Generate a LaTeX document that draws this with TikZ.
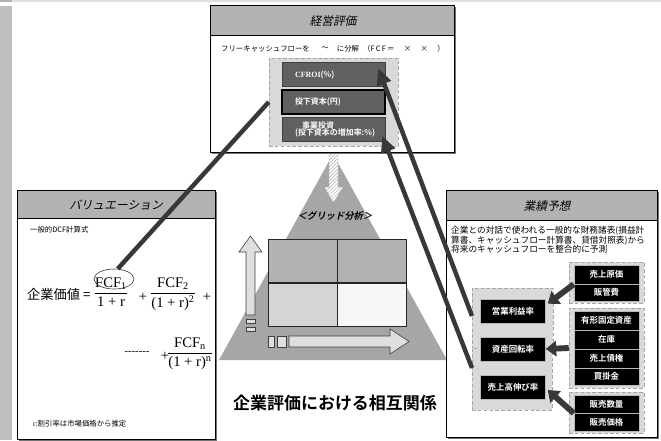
\documentclass[tikz,border=0pt]{standalone}
\usepackage{fontspec}
\usepackage{amsmath}
\setmainfont{Noto Sans CJK JP}[BoldFont={Noto Sans CJK JP Bold}]
\newfontfamily\jpit{Noto Sans CJK JP}[FakeSlant=0.22]
\newfontfamily\jpbfit{Noto Sans CJK JP Bold}[FakeSlant=0.22]
\newfontfamily\tmsfont{Liberation Serif}
\usetikzlibrary{arrows.meta, positioning, calc, patterns, shapes.geometric}

\def\pu{0.03cm}
\newcommand{\fsz}[1]{\fontsize{#1}{#1}\selectfont}

\definecolor{hdrgray}{HTML}{B2B2B2}
\definecolor{boxgray}{HTML}{D9D9D9}
\definecolor{darkfill}{HTML}{606060}
\definecolor{linegray}{HTML}{383838}
\definecolor{trigray}{HTML}{A6A6A6}

\begin{document}
\begin{tikzpicture}[x=\pu, y=-\pu,
        panel/.style={draw=black, line width=0.6pt, fill=white},
        header/.style={draw=black, line width=0.6pt, fill=hdrgray},
        hdrtext/.style={font=\jpit\fsz{10}, inner sep=0},
        note/.style={font=\fsz{6.3}, inner sep=0},
        grpbox/.style={draw=gray!70, densely dashed, line width=0.4pt, fill=boxgray, inner sep=0},
        darkbox/.style={draw=black!75, line width=0.5pt, fill=darkfill, text=white, font=\bfseries\fsz{6.8}, minimum width=103*\pu, minimum height=24*\pu, inner xsep=13*\pu, inner ysep=0, text width=77*\pu, align=left},
        blkbox/.style={fill=black, draw=gray!55, line width=0.4pt, text=white, font=\bfseries\fsz{7.2}, minimum width=65*\pu, inner sep=0},
        longarrow/.style={draw=linegray, line width=3.8pt, -{Triangle[length=14pt, width=12pt]}},
        longline/.style={draw=linegray, line width=3.8pt},
        fatarrow/.style={draw=linegray, line width=5pt, -{Triangle[length=9pt, width=13pt]}},
        lightarrow/.style={draw=black!75, line width=0.5pt, fill=gray!25},
        frac/.style={font=\tmsfont\fsz{12.5}, inner sep=0}
    ]
        \useasboundingbox (0,0) rectangle (661,440);

        % page frame
        \fill[gray!25] (12,0) rectangle (661,1.5);
        \fill[gray!60] (0,0) rectangle (12,1.5);
        \fill[gray!50] (0,6) rectangle (12,440);

        % grid analysis (centre)
        \fill[trigray] (333,154) -- (447,360) -- (219,360) -- cycle;
        \filldraw[fill=white, draw=gray!70] (329,153) -- (338,153) -- (338,187) -- (343,187) -- (333.5,203) -- (324,187) -- (329,187) -- cycle;
        \fill[pattern=north east lines, pattern color=gray!65] (329,153) -- (338,153) -- (338,187) -- (343,187) -- (333.5,203) -- (324,187) -- (329,187) -- cycle;
        \node[font=\jpbfit\fsz{8}, inner sep=0] (gridlbl) at (335,216) {＜グリッド分析＞};
        \foreach \cx/\cy/\cc in {268/239/gray!60, 337/239/gray!60, 268/283/gray!33, 337/283/gray!6} {
            \filldraw[draw=black!85, line width=0.5pt, fill=\cc] (\cx,\cy) rectangle ++(69,43.5);
        }
        \filldraw[lightarrow] (246,315) -- (246,252) -- (239,252) -- (250.5,236) -- (262,252) -- (255,252) -- (255,315) -- cycle;
        \filldraw[lightarrow] (246,319) rectangle (255,323);
        \filldraw[lightarrow] (246,327.5) rectangle (255,331);
        \filldraw[lightarrow] (289,336) -- (390,336) -- (390,329) -- (409,341.5) -- (390,354) -- (390,347) -- (289,347) -- cycle;
        \filldraw[lightarrow] (268,336) rectangle (274,347);
        \filldraw[lightarrow] (277,336) rectangle (286,347);
        \node[font=\bfseries\fsz{14.5}, inner sep=0] (title) at (335,403) {企業評価における相互関係};

        % top panel
        \fill[black!55] (211.5,6.5) rectangle (455.5,153.5);
        \filldraw[panel] (210,5) rectangle (454,152);
        \filldraw[header] (210,5) rectangle (454,35);
        \node[hdrtext] (evalhdr) at (333,21) {経営評価};
        \node[note, anchor=west] (fcftxt) at (221,49) {フリーキャッシュフローを};
        \node[note] (fcftilde) at (325,49) {～};
        \node[note] (fcfsplit) at (348,49) {に分解};
        \node[note, anchor=west] (fcfeq) at (363,49) {（F\,C\,F\,＝\hspace{8pt}×\hspace{8pt}×\hspace{8pt}）};
        \node[grpbox, minimum width=129*\pu, minimum height=88*\pu] (inbox) at (333.5,102) {};
        \node[darkbox] (cfroi) at (333.5,74.5) {{\tmsfont CFROI}(\%)};
        \node[darkbox, draw=black, line width=0.9pt] (capital) at (333.5,102) {投下資本(円)};
        \node[darkbox] (capex) at (333.5,129.5) {\hspace*{0.9em}事業投資\\[-1.5pt](投下資本の増加率:\%)};

        % valuation panel
        \fill[black!55] (18.5,191.5) rectangle (216.5,441.5);
        \filldraw[panel] (17,190) rectangle (215,439);
        \filldraw[header] (17,190) rectangle (215,218);
        \node[hdrtext] (valhdr) at (116,205) {バリュエーション};
        \node[note, anchor=west] (dcflbl) at (30,230) {一般的DCF計算式};
        \node[font=\fsz{11.3}, inner sep=0, anchor=west] (evlbl) at (27,294) {企業価値 =};
        \node[frac] (fracone) at (111,292) {$\dfrac{\text{\tmsfont FCF\textsubscript{1}}}{\text{\tmsfont 1 + r}}$};
        \node[draw=black!80, line width=0.5pt, ellipse, minimum width=40*\pu, minimum height=20*\pu] (fcfone) at (114,279) {};
        \node[frac] (plusone) at (143,297) {+};
        \node[frac] (fractwo) at (173,294) {$\dfrac{\text{\tmsfont FCF\textsubscript{2}}}{\text{\tmsfont (1 + r)\textsuperscript{2}}}$};
        \node[frac] (plustwo) at (207,297) {+};
        \node[frac, font=\tmsfont\fsz{9}] (dashes) at (137,353) {-------};
        \node[frac] (plusthree) at (165,356) {+};
        \node[frac] (fracn) at (190,354) {$\dfrac{\text{\tmsfont FCF\textsubscript{n}}}{\text{\tmsfont (1 + r)\textsuperscript{n}}}$};
        \node[note, anchor=west] (ratenote) at (33,424) {{\tmsfont r}:割引率は市場価格から推定};

        % forecast panel
        \fill[black!55] (447.5,191.5) rectangle (658.5,438.5);
        \filldraw[panel] (446,190) rectangle (657,437);
        \filldraw[header] (446,190) rectangle (657,220);
        \node[hdrtext] (fcsthdr) at (547,206) {業績予想};
        \node[font=\fontsize{7.4}{8.1}\selectfont, inner sep=0, anchor=north west, align=left] (fcsttxt) at (451,226)
            {企業との対話で使われる一般的な財務諸表(損益計\\算書、キャッシュフロー計算書、貸借対照表)から\\将来のキャッシュフローを整合的に予測};

        % ratio groups
        \node[grpbox, minimum width=81*\pu, minimum height=61*\pu] (lgrpone) at (512.5,318.5) {};
        \node[grpbox, minimum width=80*\pu, minimum height=62*\pu] (lgrptwo) at (512,379) {};
        \node[blkbox, minimum height=24*\pu] (opm) at (513,311) {営業利益率};
        \node[blkbox, minimum height=24*\pu] (turn) at (513,349) {資産回転率};
        \node[blkbox, minimum height=24*\pu] (growth) at (513,387) {売上高伸び率};

        % driver groups
        \node[grpbox, minimum width=75*\pu, minimum height=41*\pu] (gcost) at (606.5,282.5) {};
        \node[blkbox, minimum height=19*\pu] (cogs) at (606.5,274.5) {売上原価};
        \node[blkbox, minimum height=17*\pu] (sga) at (606.5,292.5) {販管費};
        \node[grpbox, minimum width=75*\pu, minimum height=80*\pu] (gasset) at (606.5,348) {};
        \node[blkbox, minimum height=19*\pu] (ppe) at (606.5,320.5) {有形固定資産};
        \node[blkbox, minimum height=19*\pu] (inv) at (606.5,339.5) {在庫};
        \node[blkbox, minimum height=19*\pu] (recv) at (606.5,358.5) {売上債権};
        \node[blkbox, minimum height=17*\pu] (payb) at (606.5,376.5) {買掛金};
        \node[grpbox, minimum width=75*\pu, minimum height=41*\pu] (gsales) at (606.5,412.5) {};
        \node[blkbox, minimum height=18*\pu] (sqty) at (606.5,404) {販売数量};
        \node[blkbox, minimum height=18*\pu] (sprice) at (606.5,422) {販売価格};

        % connectors
        \draw[fatarrow] (cogs.south west) -- ($(opm.north east)+(2,5)$);
        \draw[fatarrow] (gasset.west) -- (turn.east);
        \draw[fatarrow] (sqty.south west) -- ($(growth.east)+(2,3)$);
        \coordinate (tailopm) at (472,316);
        \coordinate (tailgrowth) at (472,368);
        \draw[longarrow] (tailopm) -- ($(cfroi.north east)+(-7,6)$);
        \draw[longarrow] (tailgrowth) -- ($(capex.south east)+(-3,-6)$);
        \draw[longline] (fcfone.70) -- (inbox.west);

    \end{tikzpicture}
\end{document}
